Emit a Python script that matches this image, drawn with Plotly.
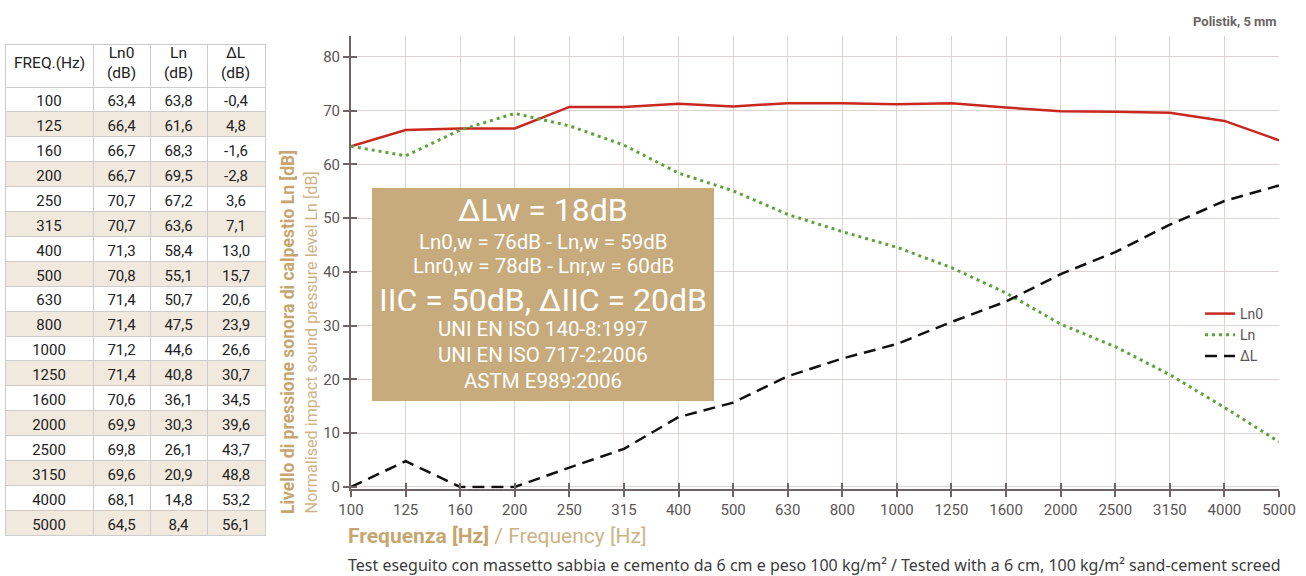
import plotly.graph_objects as go

# ---------------- data ----------------
freq_labels = ["100", "125", "160", "200", "250", "315", "400", "500", "630", "800",
               "1000", "1250", "1600", "2000", "2500", "3150", "4000", "5000"]
ln0 = [63.4, 66.4, 66.7, 66.7, 70.7, 70.7, 71.3, 70.8, 71.4, 71.4,
       71.2, 71.4, 70.6, 69.9, 69.8, 69.6, 68.1, 64.5]
ln = [63.8, 61.6, 68.3, 69.5, 67.2, 63.6, 58.4, 55.1, 50.7, 47.5,
      44.6, 40.8, 36.1, 30.3, 26.1, 20.9, 14.8, 8.4]
dl = [-0.4, 4.8, -1.6, -2.8, 3.6, 7.1, 13.0, 15.7, 20.6, 23.9,
      26.6, 30.7, 34.5, 39.6, 43.7, 48.8, 53.2, 56.1]

# values as drawn in the chart (negative dL drawn at 0)
ln_chart = [63.4, 61.6, 66.4, 69.5, 67.2, 63.6, 58.4, 55.1, 50.7, 47.5,
            44.6, 40.8, 36.1, 30.3, 26.1, 20.9, 14.8, 8.4]
dl_chart = [0.0, 4.8, 0.0, 0.0, 3.6, 7.1, 13.0, 15.7, 20.6, 23.9,
            26.6, 30.7, 34.5, 39.6, 43.7, 48.8, 53.2, 56.1]

y_ticks = [0, 10, 20, 30, 40, 50, 60, 70, 80]
header_labels = ["FREQ.(Hz)", "Ln0<br>(dB)", "Ln<br>(dB)", "ΔL<br>(dB)"]
series_names = ["Ln0", "Ln", "ΔL"]

box_lines = ["ΔLw = 18dB", "Ln0,w = 76dB - Ln,w = 59dB", "Lnr0,w = 78dB - Lnr,w = 60dB",
             "IIC = 50dB, ΔIIC = 20dB", "UNI EN ISO 140-8:1997", "UNI EN ISO 717-2:2006",
             "ASTM E989:2006"]
box_sizes = [32, 20.5, 20.5, 32, 20.5, 20.5, 20.5]
box_ys = [210, 242, 266, 300, 329, 355, 381]

W, H = 1306, 576
FONT = "Roboto, Liberation Sans, sans-serif"
TAN = "#c6a66f"
TAN_L = "#cdb487"
GRID = "#ddd3d3"
AXIS = "#6e6463"
TICKTXT = "#5a5555"


def px_x(x):
    return x / W


def px_y(y):
    return 1 - y / H


def fmt(v):
    return f"{v:.1f}".replace(".", ",")


xs = list(range(len(freq_labels)))

fig = go.Figure()

# ---------------- table ----------------
col_edges = [5, 93, 150, 207, 265]
row_fill = ["#ffffff" if i % 2 == 0 else "#f1e9dd" for i in range(len(freq_labels))]
fig.add_trace(go.Table(
    domain=dict(x=[px_x(col_edges[0]), px_x(col_edges[-1])], y=[px_y(540), px_y(44)]),
    columnwidth=[col_edges[i + 1] - col_edges[i] for i in range(4)],
    header=dict(values=[""] * 4, height=43, align="center",
                fill_color="white", line=dict(color="#cccccc", width=1),
                font=dict(family=FONT, size=15, color="#222222")),
    cells=dict(values=[freq_labels, [fmt(v) for v in ln0], [fmt(v) for v in ln],
                       [fmt(v) for v in dl]],
               height=24.9, align="center",
               fill_color=[row_fill] * 4, line=dict(color="#cccccc", width=1),
               font=dict(family=FONT, size=15, color="#222222")),
))
for i, lab in enumerate(header_labels):
    fig.add_annotation(xref="paper", yref="paper",
                       x=px_x((col_edges[i] + col_edges[i + 1]) / 2), y=px_y(63),
                       xanchor="center", yanchor="middle", showarrow=False,
                       text=lab, font=dict(family=FONT, size=15.5, color="#222222"))

# ---------------- lines ----------------
fig.add_trace(go.Scatter(x=xs, y=ln0, mode="lines", name=series_names[0],
                         line=dict(color="#c8281f", width=2.5)))
fig.add_trace(go.Scatter(x=xs, y=ln_chart, mode="lines", name=series_names[1],
                         line=dict(color="#5da23a", width=3, dash="3px,4px")))
fig.add_trace(go.Scatter(x=xs, y=dl_chart, mode="lines", name=series_names[2],
                         line=dict(color="#111111", width=2.5, dash="12px,7px")))
# dummy trace for overlay axes (inside ticks)
fig.add_trace(go.Scatter(x=[None], y=[None], xaxis="x2", yaxis="y2",
                         showlegend=False, hoverinfo="skip"))

xr = [0, len(freq_labels) - 1]
yr = [-0.3, 83.9]
xdom = [px_x(351), px_x(1279)]
ydom = [px_y(488.6), px_y(36)]

fig.update_layout(
    width=W, height=H,
    margin=dict(l=0, r=0, t=0, b=0),
    paper_bgcolor="white", plot_bgcolor="white",
    xaxis=dict(domain=xdom, range=xr, tickvals=xs, ticktext=freq_labels,
               showgrid=True, gridcolor=GRID, gridwidth=1, zeroline=False,
               showline=True, linecolor=AXIS, linewidth=2,
               ticks="outside", ticklen=6, tickwidth=2, tickcolor=AXIS,
               tickfont=dict(family=FONT, size=15, color=TICKTXT),
               automargin=False, anchor="y"),
    yaxis=dict(domain=ydom, range=yr, tickvals=y_ticks,
               showgrid=True, gridcolor=GRID, gridwidth=1, zeroline=False,
               showline=True, linecolor=AXIS, linewidth=2,
               ticks="outside", ticklen=6, tickwidth=2, tickcolor=AXIS,
               tickfont=dict(family=FONT, size=15, color=TICKTXT),
               automargin=False, anchor="x"),
    xaxis2=dict(overlaying="x", range=xr, tickvals=xs + [xr[1]], showticklabels=False,
                showgrid=False, zeroline=False, showline=False,
                ticks="inside", ticklen=6, tickwidth=2, tickcolor=AXIS,
                anchor="y", automargin=False),
    yaxis2=dict(overlaying="y", range=yr, tickvals=y_ticks + [yr[1]], showticklabels=False,
                showgrid=False, zeroline=False, showline=False,
                ticks="inside", ticklen=6, tickwidth=2, tickcolor=AXIS,
                anchor="x", automargin=False),
    legend=dict(x=px_x(1200), y=px_y(298), xanchor="left", yanchor="top",
                bgcolor="rgba(0,0,0,0)", itemwidth=30, tracegroupgap=0,
                font=dict(family=FONT, size=14, color=TICKTXT)),
    showlegend=True,
)

# ---------------- annotation box ----------------
fig.add_shape(type="rect", xref="paper", yref="paper",
              x0=px_x(372), x1=px_x(714), y0=px_y(401), y1=px_y(188),
              fillcolor="#c8ab7c", line=dict(width=0), layer="above")
for txt, sz, yy in zip(box_lines, box_sizes, box_ys):
    fig.add_annotation(xref="paper", yref="paper", x=px_x(543), y=px_y(yy),
                       xanchor="center", yanchor="middle", showarrow=False,
                       text=txt, font=dict(family=FONT, size=sz, color="white"))

# ---------------- titles / texts ----------------
fig.add_annotation(xref="paper", yref="paper", x=px_x(276), y=px_y(516),
                   xanchor="left", yanchor="bottom", textangle=-90, showarrow=False,
                   text="<b>Livello di pressione sonora di calpestio Ln [dB]</b>",
                   font=dict(family=FONT, size=17.5, color=TAN))
fig.add_annotation(xref="paper", yref="paper", x=px_x(299), y=px_y(516),
                   xanchor="left", yanchor="bottom", textangle=-90, showarrow=False,
                   text="Normalised impact sound pressure level Ln [dB]",
                   font=dict(family=FONT, size=16.2, color=TAN_L))
fig.add_annotation(xref="paper", yref="paper", x=px_x(346), y=px_y(536),
                   xanchor="left", yanchor="middle", showarrow=False,
                   text="<b>Frequenza [Hz]</b><span style='color:%s'> / Frequency [Hz]</span>" % TAN_L,
                   font=dict(family=FONT, size=21, color=TAN))
fig.add_annotation(xref="paper", yref="paper", x=px_x(346), y=px_y(565),
                   xanchor="left", yanchor="middle", showarrow=False,
                   text="Test eseguito con massetto sabbia e cemento da 6 cm e peso 100 kg/m² / Tested with a 6 cm, 100 kg/m² sand-cement screed",
                   font=dict(family="Noto Sans, Open Sans, sans-serif", size=16, color="#3c3c3c"))
fig.add_annotation(xref="paper", yref="paper", x=px_x(1279), y=px_y(22),
                   xanchor="right", yanchor="middle", showarrow=False,
                   text="<b>Polistik, 5 mm</b>",
                   font=dict(family=FONT, size=13, color="#6a6464"))

fig.write_html("out.html", config={"displayModeBar": False},
               post_script="document.body.style.margin='0';")
